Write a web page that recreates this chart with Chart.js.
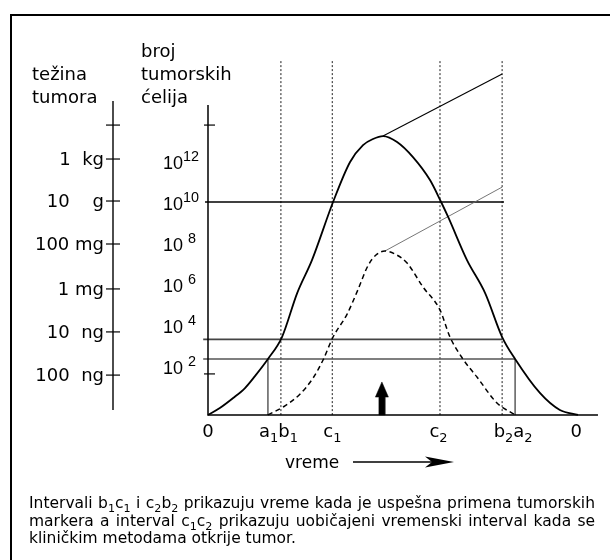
<!DOCTYPE html>
<html><head><meta charset="utf-8">
<script src="https://cdn.jsdelivr.net/npm/chart.js@4.4.1/dist/chart.umd.min.js"></script>
<style>html,body{margin:0;padding:0;background:#fff}canvas{display:block}</style>
</head><body>
<canvas id="c" width="610" height="560"></canvas>
<script>
// ---- DATA (time in relative units 0..100, level in log10 of cell count) ----
const markerNames = ['a1', 'b1', 'c1', 'c2', 'b2', 'a2'];
const markerTimes = [16.2, 19.7, 33.6, 62.7, 79.5, 83.0];
const timeTickLabels = ['0', 'a_{1}b_{1}', 'c_{1}', 'c_{2}', 'b_{2}a_{2}', '0'];
const endTime = 100;
const arrowTime = 47.0;

const solidTime  = [0, 3.2, 6.8, 10.0, 12.7, 16.2, 20.0, 24.1, 28.1, 33.8, 38.4, 41.9, 44.6, 47.3, 51.1, 55.4, 60.0, 63.0, 64.9, 70.0, 74.9, 79.5, 83.0, 89.7, 95.1, 100];
const solidLog   = [-0.85, -0.50, 0.01, 0.52, 1.13, 2.0, 3.12, 5.36, 7.04, 10.0, 12.04, 12.9, 13.21, 13.36, 13.06, 12.29, 11.12, 10.0, 9.24, 7.04, 5.36, 3.12, 2.0, 0.27, -0.6, -0.85];

const dashedTime = [16.2, 20.8, 24.9, 28.4, 31.1, 33.8, 37.6, 40.5, 43.2, 45.4, 47.8, 50.5, 53.8, 58.1, 62.7, 65.4, 68.9, 72.7, 78.1, 83.0];
const dashedLog  = [-0.85, -0.39, 0.22, 1.03, 1.95, 3.12, 4.29, 5.52, 6.74, 7.30, 7.50, 7.35, 6.89, 5.67, 4.50, 3.12, 2.0, 1.08, -0.24, -0.85];

const solidTangentTime = [47.3, 79.5];
const solidTangentLog  = [13.36, 16.52];
const dashedTangentTime = [47.8, 79.5];
const dashedTangentLog  = [7.50, 10.76];

const thresholdLevels = [10, 3, 2];            // horizontal lines
const cellLabelPowers = [12, 10, 8, 6, 4, 2];  // 10^n labels
const cellAxisTicks = [13.92, 1.24];
const weightLabels = ['', '1  kg', '10    g', '100 mg', '1 mg', '10  ng', '100  ng'];
const weightLevels = [13.92, 12.19, 10.05, 7.86, 5.57, 3.38, 1.18];

const baseLevel = -0.85;   // level of the time axis
const dottedTop = 17.18;
const cellAxisTop = 14.94;

// ---- helpers ----
const T = n => markerTimes[markerNames.indexOf(n)];
const line = (xs, ys, extra) => Object.assign({
  data: xs.map((x, i) => ({x, y: ys[i]})), showLine: true, pointRadius: 0,
  borderColor: '#000', borderWidth: 1, tension: 0, fill: false
}, extra || {});

const datasets = [];
datasets.push(line(solidTime, solidLog, {borderWidth: 1.8, cubicInterpolationMode: 'monotone'}));
datasets.push(line(dashedTime, dashedLog, {borderWidth: 1.5, borderDash: [5, 3.5], cubicInterpolationMode: 'monotone'}));
datasets.push(line(solidTangentTime, solidTangentLog, {borderWidth: 1.1}));
datasets.push(line(dashedTangentTime, dashedTangentLog, {borderWidth: 0.9, borderColor: '#666'}));
datasets.push(line([-0.8, T('b2') + 0.5], [thresholdLevels[0], thresholdLevels[0]], {borderWidth: 1.6}));
datasets.push(line([-1.3, T('b2')], [thresholdLevels[1], thresholdLevels[1]], {borderWidth: 1.6, borderColor: '#444'}));
datasets.push(line([-1.3, T('a2')], [thresholdLevels[2], thresholdLevels[2]], {borderWidth: 1.6, borderColor: '#555'}));
['a1', 'a2'].forEach(n => datasets.push(line([T(n), T(n)], [thresholdLevels[2], baseLevel], {borderWidth: 1.3, borderColor: '#444'})));
['b1', 'c1', 'c2', 'b2'].forEach(n => datasets.push(line([T(n), T(n)], [dottedTop, baseLevel], {borderWidth: 1.2, borderColor: '#444', borderDash: [2, 2]})));
const sw = 0.81, hw = 1.76, headBase = 0.06, tip = 0.83;
datasets.push(line(
  [arrowTime - sw, arrowTime - sw, arrowTime - hw, arrowTime, arrowTime + hw, arrowTime + sw, arrowTime + sw, arrowTime - sw],
  [baseLevel, headBase, headBase, tip, headBase, headBase, baseLevel, baseLevel],
  {borderWidth: 0.5, backgroundColor: '#000', fill: 'shape'}));

// rich text: _{sub} ^{sup}
function parseRich(s) {
  const parts = [];
  const re = /([_^])\{([^}]*)\}/g;
  let last = 0, m;
  while ((m = re.exec(s))) {
    if (m.index > last) parts.push({t: s.slice(last, m.index), k: 0});
    parts.push({t: m[2], k: m[1] === '_' ? 1 : -1});
    last = re.lastIndex;
  }
  if (last < s.length) parts.push({t: s.slice(last), k: 0});
  return parts;
}
function fontFor(k, size, fam, r) { return (k ? size * (r || 0.72) : size) + 'px ' + fam; }
function richWidth(ctx, s, size, fam, r) {
  let w = 0;
  parseRich(s).forEach(p => { ctx.font = fontFor(p.k, size, fam, r); w += ctx.measureText(p.t).width; });
  return w;
}
function drawRich(ctx, s, x, y, size, fam, align, supShift, r) {
  const w = richWidth(ctx, s, size, fam, r);
  if (align === 'right') x -= w; else if (align === 'center') x -= w / 2;
  ctx.textAlign = 'left';
  parseRich(s).forEach(p => {
    ctx.font = fontFor(p.k, size, fam, r);
    const dy = p.k === 1 ? size * 0.28 : (p.k === -1 ? -(supShift || 0.42) * size : 0);
    ctx.fillText(p.t, x, y + dy);
    x += ctx.measureText(p.t).width;
  });
  return w;
}

const SANS = '"DejaVu Sans", sans-serif';
const NUM = '"Liberation Sans", Arial, sans-serif';
const CAP = '"DejaVu Sans", sans-serif';

const captionLines = [
  ['Intervali b_{1}c_{1} i c_{2}b_{2} prikazuju vreme kada je uspešna primena tumorskih', true],
  ['markera a interval c_{1}c_{2} prikazuju uobičajeni vremenski interval kada se', true],
  ['kliničkim metodama otkrije tumor.', false]
];

const decor = {
  id: 'decor',
  afterDatasetsDraw(chart) {
    const ctx = chart.ctx, xs = chart.scales.x, ys = chart.scales.y;
    const X = v => xs.getPixelForValue(v), Y = v => ys.getPixelForValue(v);
    ctx.save();
    ctx.strokeStyle = '#000'; ctx.fillStyle = '#000';
    ctx.lineWidth = 2;
    ctx.beginPath(); ctx.moveTo(11, 560); ctx.lineTo(11, 15); ctx.lineTo(610, 15); ctx.stroke();

    ctx.lineWidth = 1.5;
    ctx.beginPath();
    ctx.moveTo(X(0), Y(cellAxisTop)); ctx.lineTo(X(0), Y(baseLevel));
    ctx.lineTo(X(endTime + 5.4), Y(baseLevel));
    ctx.stroke();
    ctx.lineWidth = 1.2;
    cellAxisTicks.forEach(v => { ctx.beginPath(); ctx.moveTo(X(0) - 4, Y(v)); ctx.lineTo(X(0) + 7, Y(v)); ctx.stroke(); });

    const wx = 113;
    ctx.lineWidth = 1.4;
    ctx.beginPath(); ctx.moveTo(wx, Y(15.15)); ctx.lineTo(wx, Y(-0.6)); ctx.stroke();
    ctx.lineWidth = 1.2;
    ctx.textBaseline = 'middle';
    weightLevels.forEach((v, i) => {
      ctx.beginPath(); ctx.moveTo(wx - 7, Y(v)); ctx.lineTo(wx + 7, Y(v)); ctx.stroke();
      if (weightLabels[i]) {
        ctx.font = '18px ' + SANS; ctx.textAlign = 'right';
        ctx.fillText(weightLabels[i], wx - 9, Y(v) + 1);
      }
    });

    ctx.textBaseline = 'alphabetic';
    cellLabelPowers.forEach((n, i) => {
      const y = Y(12) + 6 + i * 41;
      const s = n >= 10 ? '10^{' + n + '}' : '10 ^{' + n + '}';
      drawRich(ctx, s, 163, y, 18, NUM, 'left', 0.45, 0.8);
    });

    ctx.font = '18px ' + SANS; ctx.textAlign = 'left';
    ctx.fillText('težina', 32, 80); ctx.fillText('tumora', 32, 103);
    ctx.fillText('broj', 141, 57); ctx.fillText('tumorskih', 141, 80); ctx.fillText('ćelija', 141, 103);

    const labelTimes = [0, (T('a1') + T('b1')) / 2, T('c1'), T('c2'), (T('b2') + T('a2')) / 2, endTime - 0.5];
    const labelShift = [0, 4, 0, -1.5, 4.5, 0];
    timeTickLabels.forEach((s, i) => drawRich(ctx, s, X(labelTimes[i]) + labelShift[i], 437, 18, SANS, 'center'));

    ctx.font = '17px ' + SANS; ctx.textAlign = 'left';
    ctx.fillText('vreme', 285, 468);
    ctx.lineWidth = 1.4;
    ctx.beginPath(); ctx.moveTo(353, 462); ctx.lineTo(432, 462); ctx.stroke();
    ctx.beginPath(); ctx.moveTo(454, 462); ctx.lineTo(425, 456.5); ctx.lineTo(432, 462); ctx.lineTo(425, 467.5); ctx.closePath(); ctx.fill();

    const size = 15.5, left = 29, right = 595, base0 = 508, lh = 17.5;
    captionLines.forEach(([txt, just], li) => {
      const words = txt.split(' ');
      const widths = words.map(w => richWidth(ctx, w, size, CAP));
      ctx.font = size + 'px ' + CAP;
      const spaceW = ctx.measureText(' ').width;
      const total = widths.reduce((a, b) => a + b, 0);
      let gap = just ? (right - left - total) / (words.length - 1) : spaceW;
      let sx = 1;
      if (gap < spaceW * 0.6) { sx = (right - left - spaceW * 0.6 * (words.length - 1)) / total; gap = spaceW * 0.6; }
      let x = left;
      words.forEach((w, i) => {
        ctx.save(); ctx.translate(x, 0); ctx.scale(sx, 1);
        drawRich(ctx, w, 0, base0 + li * lh, size, CAP, 'left');
        ctx.restore();
        x += widths[i] * sx + gap;
      });
    });
    ctx.restore();
  }
};

new Chart(document.getElementById('c'), {
  type: 'scatter',
  data: {datasets},
  options: {
    responsive: false, animation: false, events: [],
    layout: {padding: 0},
    plugins: {legend: {display: false}, tooltip: {enabled: false}},
    scales: {
      x: {type: 'linear', display: false, min: -56.216, max: 108.65},
      y: {type: 'linear', display: false, min: -8.242, max: 20.293}
    }
  },
  plugins: [decor]
});
</script>
</body></html>
